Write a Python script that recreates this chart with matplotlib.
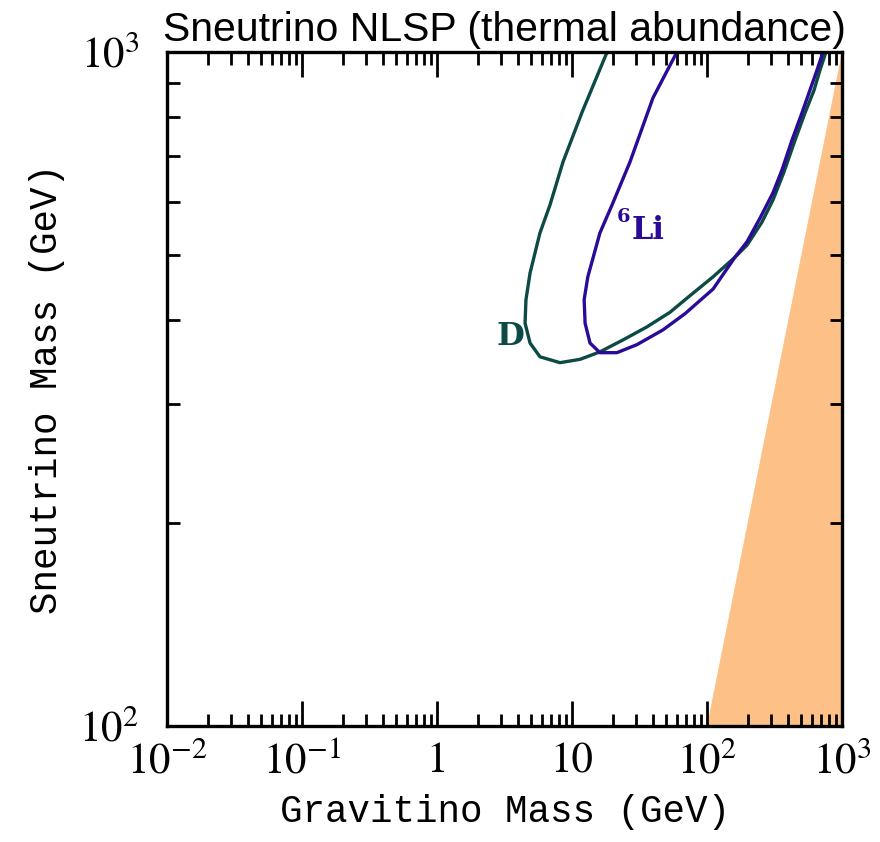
import matplotlib
matplotlib.use("Agg")
import matplotlib.pyplot as plt
from matplotlib.ticker import FixedLocator, FixedFormatter, LogLocator, NullFormatter

plt.rcParams["mathtext.fontset"] = "stix"

# D (deuterium) constraint contour: gravitino mass vs sneutrino mass, GeV
d_grav = [18.2, 11.9, 8.58, 6.87, 5.79, 4.89, 4.56, 4.49, 4.89, 5.79, 8.15, 11.5, 16.1,
          23.9, 35.9, 53.2, 74.8, 111, 161, 198, 255, 308, 372, 449, 532, 621, 687, 761]
d_snu = [1000, 815, 687, 593, 539, 470, 429, 396, 370, 353, 346, 350, 359,
         374, 391, 411, 435, 464, 496, 517, 559, 603, 664, 740, 812, 878, 940, 1000]

# 6Li constraint contour
li_grav = [59.9, 39.8, 26.9, 19.8, 16.1, 13.1, 12.3, 12.5, 13.6, 16.1, 21.5, 30.3, 47.2,
           68.7, 111, 161, 198, 247, 308, 359, 426, 505, 579, 653, 723]
li_snu = [1000, 855, 687, 593, 539, 464, 429, 396, 370, 358, 358, 368, 387,
          409, 445, 496, 523, 567, 618, 668, 740, 812, 878, 940, 1000]

# sneutrino lighter than gravitino -> excluded wedge
wedge_grav = [100, 1000, 1000]
wedge_snu = [100, 100, 1000]

xticks = [1e-2, 1e-1, 1, 10, 1e2, 1e3]
xticklabels = [r"$10^{-2}$", r"$10^{-1}$", "1", "10", r"$10^{2}$", r"$10^{3}$"]
yticks = [1e2, 1e3]
yticklabels = [r"$10^{2}$", r"$10^{3}$"]

D_COL = "#0d4a45"
LI_COL = "#2a0a96"

fig = plt.figure(figsize=(8.8, 8.42), dpi=100)
ax = fig.add_axes([167 / 880, 1 - 726 / 842, 675 / 880, 674 / 842])

ax.fill(wedge_grav, wedge_snu, color="#fdc086", lw=0, zorder=1)
ax.plot(d_grav, d_snu, color=D_COL, lw=2.4, zorder=3)
ax.plot(li_grav, li_snu, color=LI_COL, lw=2.4, zorder=3)

ax.set_xscale("log")
ax.set_yscale("log")
ax.set_xlim(1e-2, 1e3)
ax.set_ylim(1e2, 1e3)

ax.xaxis.set_major_locator(FixedLocator(xticks))
ax.xaxis.set_major_formatter(FixedFormatter(xticklabels))
ax.yaxis.set_major_locator(FixedLocator(yticks))
ax.yaxis.set_major_formatter(FixedFormatter(yticklabels))
ax.xaxis.set_minor_locator(LogLocator(base=10, subs=range(2, 10), numticks=20))
ax.yaxis.set_minor_locator(LogLocator(base=10, subs=range(2, 10), numticks=20))
ax.xaxis.set_minor_formatter(NullFormatter())
ax.yaxis.set_minor_formatter(NullFormatter())

ax.tick_params(which="both", direction="in", top=True, right=True, width=2.0, color="black")
ax.tick_params(which="major", length=18)
ax.tick_params(which="minor", length=9)
ax.tick_params(axis="x", which="major", labelsize=31, pad=12)
ax.tick_params(axis="y", which="major", labelsize=31, pad=20)
for lab in ax.get_xticklabels() + ax.get_yticklabels():
    lab.set_fontfamily("STIXGeneral")
for sp in ax.spines.values():
    sp.set_linewidth(2.4)
    sp.set_zorder(5)

ax.set_xlabel("Gravitino Mass (GeV)", fontsize=27, family="Liberation Mono", labelpad=8)
ax.set_ylabel("Sneutrino Mass (GeV)", fontsize=27, family="Liberation Mono", labelpad=10)
ax.set_title("Sneutrino NLSP (thermal abundance)", fontsize=29.5, family="Liberation Sans",
             pad=8)

ax.text(3.47, 378, "D", color=D_COL, fontsize=23, family="DejaVu Serif", weight="bold",
        ha="center", va="center", zorder=4)
# isotope label: superscript mass number drawn as its own small text
ax.text(21.6, 560, "6", color=LI_COL, fontsize=14, family="DejaVu Serif",
        weight="bold", ha="left", va="baseline", zorder=4)
ax.text(27.8, 528, "Li", color=LI_COL, fontsize=22, family="DejaVu Serif",
        weight="bold", ha="left", va="baseline", zorder=4)

fig.savefig("out.png", dpi=100)
